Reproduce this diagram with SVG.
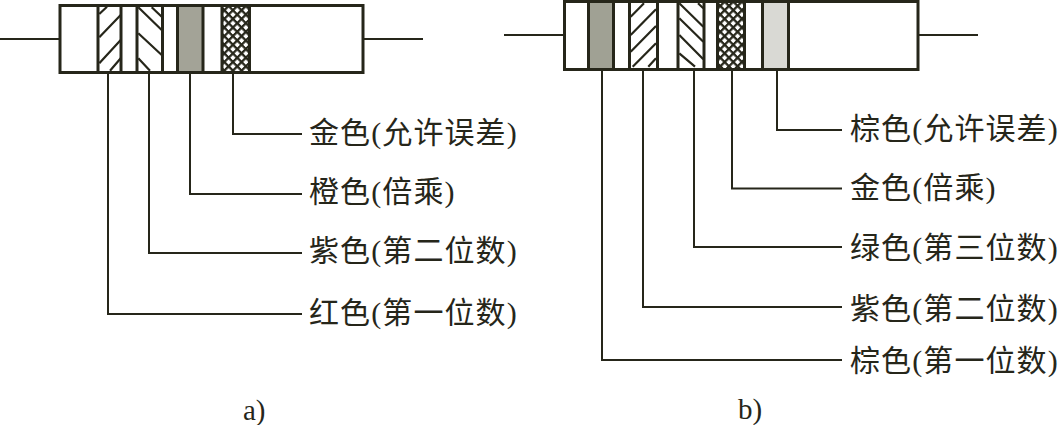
<svg xmlns="http://www.w3.org/2000/svg" width="1059" height="425" viewBox="0 0 1059 425">
<style>
.o{fill:none;stroke:#26261a;stroke-width:3}
.b{stroke:#26261a;stroke-width:3}
.h{stroke:#26261a;stroke-width:2.2;fill:none}
.l{stroke:#26261a;stroke-width:2;fill:none}
.t{font-family:"Liberation Serif","Noto Sans CJK SC",serif;font-size:30px;letter-spacing:1.1px;fill:#26261a}
.c{font-family:"Liberation Serif",serif;font-size:29px;fill:#26261a}
</style>
<defs>
<pattern id="x" patternUnits="userSpaceOnUse" width="6.1" height="6.1" patternTransform="rotate(45)">
<rect width="6.1" height="6.1" fill="#26261a"/><rect x="2.3" y="2.3" width="3.8" height="3.8" fill="#fff"/>
</pattern>
</defs>
<rect width="1059" height="425" fill="#fff"/>
<g id="resistor-a">
<path class="l" d="M0 39H60M364 39H423"/>
<rect class="o" x="60" y="5.5" width="303" height="67"/>
<rect class="b" x="98" y="5.5" width="23" height="67" fill="#fff"/>
<path class="h" d="M99.3 14L107 6.7M99.3 37.3L120.7 15M99.3 63.3L120.7 40M110 70.7L120.7 58.3"/>
<rect class="b" x="137" y="5.5" width="25.5" height="67" fill="#fff"/>
<path class="h" d="M138.3 7.3L161.7 30M138.3 33.3L161.7 55M138.3 58.3L150 70.7M151.7 7.3L161.7 16.7"/>
<rect class="b" x="177.500" y="5.5" width="25.5" height="67" fill="#a3a397"/>
<rect class="b" x="222" y="5.5" width="27.500" height="67" fill="url(#x)"/>
</g>
<g id="resistor-b">
<path class="l" d="M504 35H564M919 35H978"/>
<rect class="o" x="564.500" y="1.500" width="353.500" height="68"/>
<rect class="b" x="588.500" y="1.500" width="25" height="68" fill="#a0a194"/>
<rect class="b" x="629.500" y="1.500" width="28" height="68" fill="#fff"/>
<path class="h" d="M630.7 16.700L644 3.300M630.7 35L656 9.300M630.7 51.700L656 26M632.700 66.700L656 43.300M648.300 66.700L656 58.300"/>
<rect class="b" x="678" y="1.500" width="26" height="68" fill="#fff"/>
<path class="h" d="M679.300 3.300L703.300 26.700M679.300 18.300L703.300 41.700M679.300 35L703.300 59.300M679.300 53.300L695 66.700M698 3.300L703.300 8.300"/>
<rect class="b" x="717.500" y="1.500" width="27" height="68" fill="url(#x)"/>
<rect class="b" x="762.500" y="1.500" width="26" height="68" fill="#d9d9d4"/>
</g>
<g id="connectors">
<path class="l" d="M108 74V314H302M149 74V253H302M190 74V194H302M233 74V134H302"/>
<path class="l" d="M602 70V360H842M643 70V307H842M694 70V247H842M732 70V188.500H842M777 70V130H842"/>
</g>
<g id="labels-a">
<text class="t" x="309" y="143">金色(允许误差)</text>
<text class="t" x="309" y="202">橙色(倍乘)</text>
<text class="t" x="309" y="261">紫色(第二位数)</text>
<text class="t" x="309" y="323">红色(第一位数)</text>
<text class="c" x="243" y="420">a)</text>
</g>
<g id="labels-b">
<text class="t" x="850" y="139">棕色(允许误差)</text>
<text class="t" x="850" y="198">金色(倍乘)</text>
<text class="t" x="850" y="258">绿色(第三位数)</text>
<text class="t" x="850" y="319">紫色(第二位数)</text>
<text class="t" x="850" y="371">棕色(第一位数)</text>
<text class="c" x="738" y="419">b)</text>
</g>
</svg>
